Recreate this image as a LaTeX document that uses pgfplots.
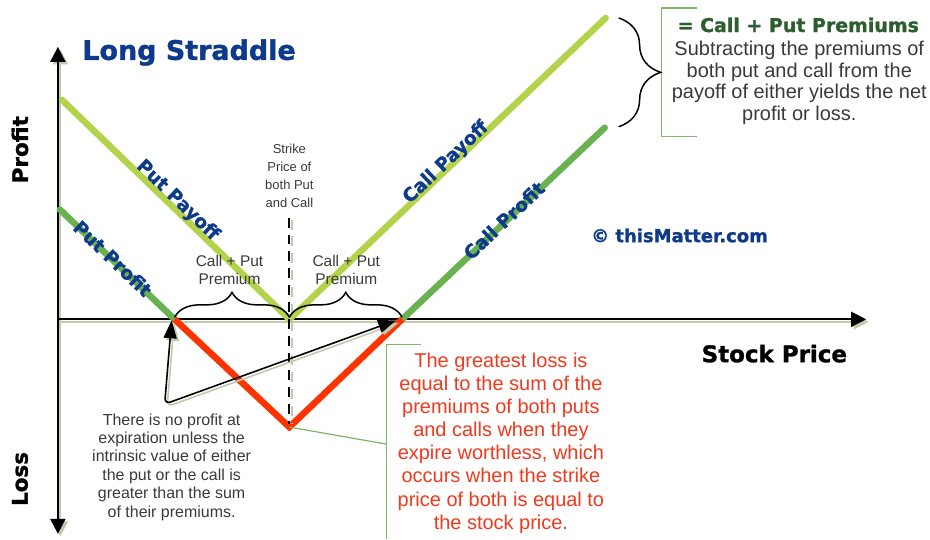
\documentclass[border=0pt]{standalone}
\usepackage{pgfplots}
\pgfplotsset{compat=1.18}
\usetikzlibrary{arrows.meta,decorations.pathreplacing}
\usepackage{fontspec}
\setmainfont{Liberation Sans}
\newfontfamily\dejavu{DejaVu Sans}[BoldFeatures={FakeBold=1.2}]
\newcommand\heavy{\dejavu\bfseries}
\newcommand\fs[2]{\fontsize{#1bp}{#2bp}\selectfont}
\definecolor{lgreen}{HTML}{B5D34A}
\definecolor{mgreen}{HTML}{6AB150}
\definecolor{redl}{HTML}{FF3300}
\definecolor{dblue}{HTML}{0E3A8C}
\definecolor{dgreen}{HTML}{2E5E30}
\definecolor{greytxt}{HTML}{3A3A3A}
\definecolor{shadowc}{HTML}{C4C8AC}
\definecolor{bracketg}{HTML}{7DB866}
\definecolor{redtxt}{HTML}{F03A1E}
\begin{document}
\begin{tikzpicture}
\begin{axis}[scale only axis, width=930bp, height=538bp,
  xmin=0, xmax=930, ymin=0, ymax=538, y dir=reverse,
  axis lines=none, ticks=none, clip=false,
  axis background/.style={fill=white}]
% axes (shadow + black)
\draw[shadowc, line width=2bp, {Triangle[length=15bp,width=15bp]}-{Triangle[length=15bp,width=15bp]}] (axis cs:60.5,49.5) -- (axis cs:60.5,537.5);
\draw[shadowc, line width=2bp, -{Triangle[length=15bp,width=15bp]}] (axis cs:58,322.5) -- (axis cs:870.5,322.5);
\draw[black, line width=2bp, {Triangle[length=15bp,width=15bp]}-{Triangle[length=15bp,width=15bp]}] (axis cs:58,47) -- (axis cs:58,535);
\draw[black, line width=2bp, -{Triangle[length=15bp,width=15bp]}] (axis cs:58,320) -- (axis cs:868,320);
% payoff lines
\addplot[no marks, lgreen, line width=6.5bp, line cap=round] coordinates {(62,100) (290,320) (607,18)};
\addplot[no marks, mgreen, line width=6.5bp, line cap=round] coordinates {(60,210) (175,320)};
\addplot[no marks, mgreen, line width=6.5bp, line cap=round] coordinates {(403,320) (606,128)};
\addplot[no marks, redl, line width=6.5bp] coordinates {(175,320) (290,428) (403,320)};
% strike dashed line
\draw[shadowc, line width=1.8bp, dash pattern=on 10bp off 7bp] (axis cs:292.5,220) -- (axis cs:292.5,425);
\draw[black, line width=1.8bp, dash pattern=on 10bp off 7bp] (axis cs:290,218) -- (axis cs:290,425);
% green connector lines
\draw[bracketg, line width=1.2bp] (axis cs:290,428) -- (axis cs:387,445);
\draw[bracketg, line width=1.2bp] (axis cs:422,345) -- (axis cs:387,345) -- (axis cs:387,540);
\draw[bracketg, line width=1.2bp] (axis cs:698,8) -- (axis cs:663,8) -- (axis cs:663,137) -- (axis cs:698,137);
% braces
\draw[black, line width=1.5bp, decorate, decoration={brace, amplitude=25bp}] (axis cs:175,318) -- (axis cs:290,318);
\draw[black, line width=1.5bp, decorate, decoration={brace, amplitude=25bp}] (axis cs:290,318) -- (axis cs:403,318);
\draw[black, line width=1.5bp, decorate, decoration={brace, amplitude=42bp}] (axis cs:620,18) -- (axis cs:620,127);
% loss arrows
\draw[shadowc, line width=1.6bp, rounded corners=6bp, {Triangle[length=18bp,width=13bp]}-{Triangle[length=18bp,width=13bp]}] (axis cs:174.5,323.5) -- (axis cs:167.5,407.5) -- (axis cs:399.5,323.5);
\draw[black, line width=1.6bp, rounded corners=6bp, {Triangle[length=18bp,width=13bp]}-{Triangle[length=18bp,width=13bp]}] (axis cs:172,321) -- (axis cs:165,405) -- (axis cs:397,321);
% texts
\node[anchor=base west, dblue, font=\heavy\fs{27}{30}] at (axis cs:79,60) {Long Straddle};
\node[rotate=90, font=\heavy\fs{21.5}{24}] at (axis cs:20,150) {Profit};
\node[rotate=90, font=\heavy\fs{21.5}{24}] at (axis cs:20,480) {Loss};
\node[anchor=base, font=\heavy\fs{23}{26}] at (axis cs:776,363) {Stock Price};
\node[dblue, font=\heavy\fs{18}{20}] at (axis cs:681,236) {\textcopyright{} thisMatter.com};
\node[dblue, rotate=-44, font=\heavy\fs{18.5}{20}] at (axis cs:178,201) {Put Payoff};
\node[dblue, rotate=-43.7, font=\heavy\fs{18.5}{20}] at (axis cs:113,259) {Put Profit};
\node[dblue, rotate=43.6, font=\heavy\fs{18.5}{20}] at (axis cs:447,163) {Call Payoff};
\node[dblue, rotate=43.4, font=\heavy\fs{18.5}{20}] at (axis cs:505,221) {Call Profit};
\node[dgreen, font=\heavy\fs{19}{22}] at (axis cs:800,25) {= Call + Put Premiums};
\node[greytxt, align=center, font=\fs{20}{22}] at (axis cs:801,83) {Subtracting the premiums of\\both put and call from the\\payoff of either yields the net\\profit or loss.};
\node[greytxt, align=center, font=\fs{13}{18}] at (axis cs:290,176) {Strike\\Price of\\both Put\\and Call};
\node[greytxt, align=center, font=\fs{15.5}{18}] at (axis cs:230,271) {Call + Put\\Premium};
\node[greytxt, align=center, font=\fs{15.5}{18}] at (axis cs:347,271) {Call + Put\\Premium};
\node[redtxt, align=center, font=\fs{20}{23.2}] at (axis cs:502,444) {The greatest loss is\\equal to the sum of the\\premiums of both puts\\and calls when they\\expire worthless, which\\occurs when the strike\\price of both is equal to\\the stock price.};
\node[greytxt, align=center, font=\fs{16}{18.4}] at (axis cs:172,468) {There is no profit at\\expiration unless the\\intrinsic value of either\\the put or the call is\\greater than the sum\\of their premiums.};
\end{axis}
\end{tikzpicture}
\end{document}
